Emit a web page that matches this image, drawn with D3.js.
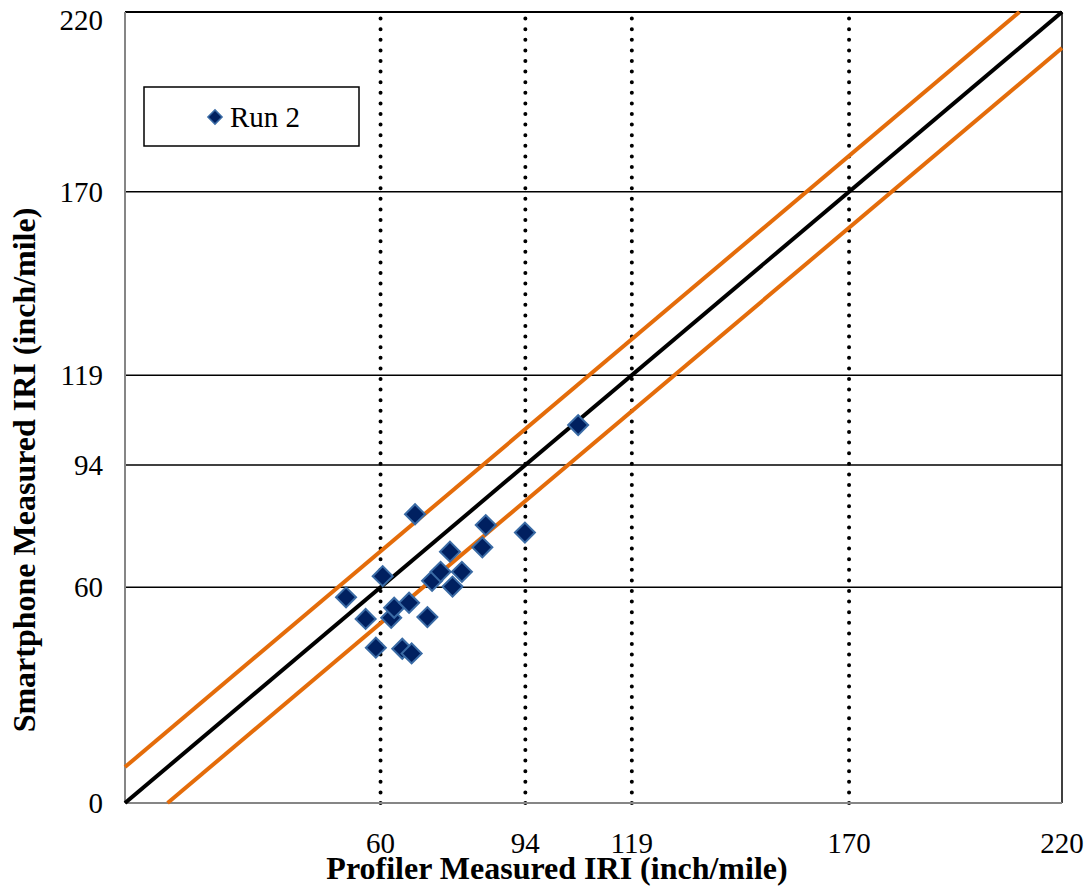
<!DOCTYPE html>
<html>
<head>
<meta charset="utf-8">
<script src="https://cdn.jsdelivr.net/npm/d3@7"></script>
<style>
  body { margin: 0; background: #fff; }
  svg { display: block; font-family: "Liberation Serif", "Times New Roman", serif; }
</style>
</head>
<body>
<div id="chart"></div>
<script>
// data
var profilerIRI   = [51.9, 56.5, 58.9, 60.5, 62.5, 63.2, 65.1, 66.7, 67.3, 68.1, 71.0, 72.1, 74.1, 76.3, 76.9, 79.1, 83.9, 84.7, 93.9, 106.4];
var smartphoneIRI = [57.2, 51.2, 43.2, 63.1, 51.5, 54.3, 42.9, 55.7, 41.6, 80.3, 51.7, 61.8, 64.3, 69.9, 60.2, 64.3, 71.1, 77.3, 75.2, 105.1];
var xTicks = [60, 94, 119, 170, 220];
var yTicks = [0, 60, 94, 119, 170, 220];
var equalityLine = [[0, 0], [220, 220]];
var upperBand = [[0, 10], [210, 220]];
var lowerBand = [[10, 0], [220, 210]];

var w_full = 1092, h_full = 888;
var margin = { top: 12, right: 30, bottom: 85, left: 125 };
var w = w_full - margin.left - margin.right,
    h = h_full - margin.top - margin.bottom;

var svg = d3.select("#chart").append("svg")
    .attr("width", w_full)
    .attr("height", h_full);

var g = svg.append("g")
    .attr("transform", "translate(" + margin.left + "," + margin.top + ")");

var x = d3.scaleLinear().domain([0, 220]).range([0, w]);
var y = d3.scaleLinear().domain([0, 220]).range([h, 0]);

// horizontal grid lines
g.selectAll(".hgrid")
    .data(yTicks.filter(function(d) { return d > 0; }))
    .enter().append("line")
    .attr("x1", 0).attr("x2", w)
    .attr("y1", function(d) { return y(d); })
    .attr("y2", function(d) { return y(d); })
    .attr("stroke", "#000")
    .attr("stroke-width", function(d) { return d == 220 ? 2 : 1.5; });

// vertical dotted lines
g.selectAll(".vgrid")
    .data(xTicks.filter(function(d) { return d < 220; }))
    .enter().append("line")
    .attr("x1", function(d) { return x(d); })
    .attr("x2", function(d) { return x(d); })
    .attr("y1", h).attr("y2", 0)
    .attr("stroke", "#000")
    .attr("stroke-width", 4)
    .attr("stroke-linecap", "round")
    .attr("stroke-dasharray", "0,10.6");

// right border
g.append("line")
    .attr("x1", x(220)).attr("x2", x(220))
    .attr("y1", 0).attr("y2", h)
    .attr("stroke", "#000")
    .attr("stroke-width", 1.5);

// axes lines (gray)
g.append("line")
    .attr("x1", 0).attr("x2", 0).attr("y1", 0).attr("y2", h)
    .attr("stroke", "#868686").attr("stroke-width", 2);
g.append("line")
    .attr("x1", 0).attr("x2", w).attr("y1", h).attr("y2", h)
    .attr("stroke", "#868686").attr("stroke-width", 2);

var line = d3.line()
    .x(function(d) { return x(d[0]); })
    .y(function(d) { return y(d[1]); });

[upperBand, lowerBand].forEach(function(b) {
    g.append("path")
        .datum(b)
        .attr("fill", "none")
        .attr("stroke", "#E46C0A")
        .attr("stroke-width", 4)
        .attr("d", line);
});

g.append("path")
    .datum(equalityLine)
    .attr("fill", "none")
    .attr("stroke", "#000")
    .attr("stroke-width", 4)
    .attr("d", line);

// points
var diamond = d3.symbol().type(d3.symbolSquare).size(200);
g.selectAll(".pt")
    .data(profilerIRI)
    .enter().append("path")
    .attr("d", diamond)
    .attr("transform", function(d, i) {
        return "translate(" + x(d) + "," + y(smartphoneIRI[i]) + ") rotate(45)";
    })
    .attr("fill", "#002060")
    .attr("stroke", "#3A6BA5")
    .attr("stroke-width", 2);

// tick labels
g.selectAll(".ylab")
    .data(yTicks)
    .enter().append("text")
    .attr("x", -22)
    .attr("y", function(d) { return d == 220 ? y(d) + 8 : y(d); })
    .attr("dy", "0.35em")
    .attr("text-anchor", "end")
    .style("font-size", "29px")
    .text(function(d) { return d; });

g.selectAll(".xlab")
    .data(xTicks)
    .enter().append("text")
    .attr("x", function(d) { return x(d); })
    .attr("y", h + 50)
    .attr("text-anchor", "middle")
    .style("font-size", "29px")
    .text(function(d) { return d; });

// axis titles
svg.append("text")
    .attr("x", 557)
    .attr("y", 879)
    .attr("text-anchor", "middle")
    .style("font-size", "32px")
    .style("font-weight", "bold")
    .text("Profiler Measured IRI (inch/mile)");

svg.append("text")
    .attr("transform", "translate(35," + 470 + ") rotate(-90)")
    .attr("text-anchor", "middle")
    .style("font-size", "32px")
    .style("font-weight", "bold")
    .text("Smartphone Measured IRI (inch/mile)");

// legend
svg.append("rect")
    .attr("x", 144).attr("y", 87)
    .attr("width", 215).attr("height", 59)
    .attr("fill", "#fff")
    .attr("stroke", "#000")
    .attr("stroke-width", 1.5);
svg.append("path")
    .attr("d", d3.symbol().type(d3.symbolSquare).size(100))
    .attr("transform", "translate(215,117) rotate(45)")
    .attr("fill", "#002060")
    .attr("stroke", "#3A6BA5")
    .attr("stroke-width", 1.5);
svg.append("text")
    .attr("x", 230).attr("y", 117)
    .attr("dy", "0.35em")
    .style("font-size", "29px")
    .text("Run 2");
</script>
</body>
</html>
